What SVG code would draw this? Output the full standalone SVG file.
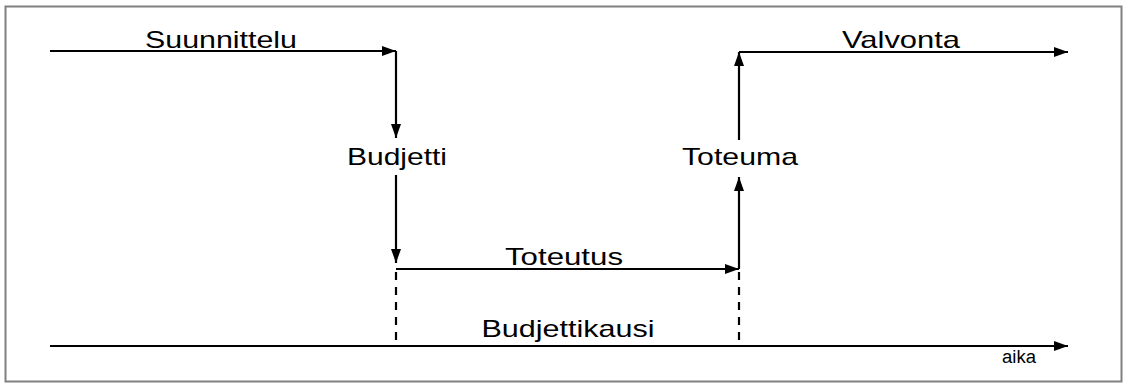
<svg xmlns="http://www.w3.org/2000/svg" width="1129" height="388" viewBox="0 0 1129 388">
  <style>
    .lbl { font-family: "Liberation Sans", Arial, sans-serif; font-size: 24px; fill: #000; text-anchor: middle; }
    .small { font-family: "Liberation Sans", Arial, sans-serif; font-size: 18px; fill: #000; }
    .ln { stroke: #000; stroke-width: 2.2; fill: none; }
    .dash { stroke: #000; stroke-width: 2.2; fill: none; stroke-dasharray: 8 7; }
  </style>
  <defs>
    <marker id="arrow" viewBox="0 0 14 10" refX="14" refY="5" markerWidth="14" markerHeight="10" markerUnits="userSpaceOnUse" orient="auto">
      <path d="M0,0 L14,5 L0,10 z" fill="#000"/>
    </marker>
  </defs>

  <!-- frame -->
  <rect x="5.5" y="6.5" width="1116" height="375" fill="#fff" stroke="#808080" stroke-width="2"/>

  <!-- connectors -->
  <g id="connectors">
    <path class="ln" d="M50,51 H396" marker-end="url(#arrow)"/>
    <path class="ln" d="M396,51 V138" marker-end="url(#arrow)"/>
    <path class="ln" d="M396,175 V263" marker-end="url(#arrow)"/>
    <path class="ln" d="M396,269 H739" marker-end="url(#arrow)"/>
    <path class="ln" d="M739,269 V177" marker-end="url(#arrow)"/>
    <path class="ln" d="M739,140 V52" marker-end="url(#arrow)"/>
    <path class="ln" d="M739,52 H1068" marker-end="url(#arrow)"/>
    <path class="dash" d="M396,272 V345"/>
    <path class="dash" d="M739,272 V345"/>
    <path class="ln" d="M50,346 H1068" marker-end="url(#arrow)"/>
  </g>

  <g id="suunnittelu"><text class="lbl" x="221" y="48" textLength="152" lengthAdjust="spacingAndGlyphs">Suunnittelu</text></g>
  <g id="budjetti"><text class="lbl" x="397" y="165" textLength="100" lengthAdjust="spacingAndGlyphs">Budjetti</text></g>
  <g id="toteutus"><text class="lbl" x="564" y="265" textLength="118" lengthAdjust="spacingAndGlyphs">Toteutus</text></g>
  <g id="toteuma"><text class="lbl" x="740" y="165" textLength="116" lengthAdjust="spacingAndGlyphs">Toteuma</text></g>
  <g id="valvonta"><text class="lbl" x="901" y="48" textLength="118" lengthAdjust="spacingAndGlyphs">Valvonta</text></g>
  <g id="budjettikausi"><text class="lbl" x="568" y="337" textLength="173" lengthAdjust="spacingAndGlyphs">Budjettikausi</text></g>
  <g id="aika"><text class="small" x="1002" y="363" textLength="34" lengthAdjust="spacingAndGlyphs">aika</text></g>
</svg>
